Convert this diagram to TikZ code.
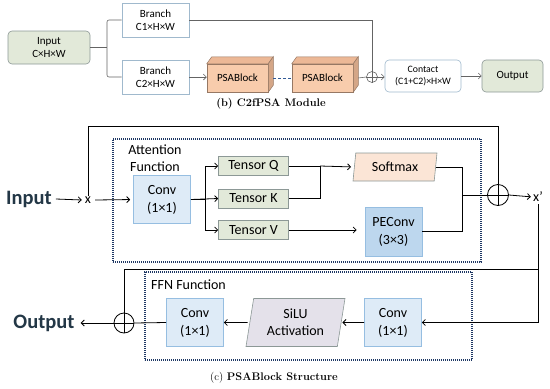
\documentclass[tikz,border=0pt]{standalone}
\usepackage{fontspec}
\newfontfamily\carl{Carlito}
\usetikzlibrary{arrows.meta,shapes.geometric,calc}
\definecolor{gfill}{RGB}{226,233,217}
\definecolor{gdraw}{RGB}{140,152,150}
\definecolor{bdraw}{RGB}{160,185,205}
\definecolor{pfill}{RGB}{248,204,172}
\definecolor{pdark}{RGB}{236,184,150}
\definecolor{pdraw}{RGB}{150,120,100}
\definecolor{sfill}{RGB}{251,229,214}
\definecolor{cfill}{RGB}{222,235,247}
\definecolor{cdraw}{RGB}{150,190,225}
\definecolor{pefill}{RGB}{189,215,238}
\definecolor{lfill}{RGB}{228,225,234}
\definecolor{navy}{RGB}{31,56,100}
\definecolor{lblue}{RGB}{50,90,150}
\definecolor{bigtxt}{RGB}{35,55,70}
\definecolor{topln}{RGB}{100,100,100}
\tikzset{
  base/.style={font=\carl, align=center, inner sep=0pt},
  topf/.style={font=\carl\fontsize{11}{13}\selectfont},
  botf/.style={font=\carl\fontsize{14}{17}\selectfont},
  gbox/.style={base, topf, draw=gdraw, fill=gfill, rounded corners=4pt, line width=0.6pt},
  wbox/.style={base, topf, draw=bdraw, fill=white, line width=0.6pt},
  cbox/.style={base, topf, font=\carl\fontsize{9.8}{12.5}\selectfont, draw=bdraw, fill=white, rounded corners=4pt, line width=0.6pt},
  pbox/.style={base, topf, draw=pdraw, fill=pfill, line width=0.5pt, minimum width=61pt, minimum height=28pt},
  tbox/.style={base, botf, draw=gdraw, fill=gfill, line width=0.6pt, minimum width=70pt, minimum height=19pt},
  convbox/.style={base, botf, draw=cdraw, fill=cfill, line width=0.6pt, minimum width=57pt, minimum height=48pt},
  para/.style={base, botf, trapezium, trapezium left angle=74, trapezium right angle=106, trapezium stretches body=true, draw=gdraw, line width=0.6pt},
  dotbox/.style={draw=navy, line width=1.3pt, dash pattern=on 0.9pt off 1.1pt, inner sep=0pt},
  opl/.style={circle, draw, line width=0.8pt, inner sep=0pt},
  lbl/.style={base, botf},
  big/.style={base, font=\carl\bfseries\fontsize{20.5}{24}\selectfont, text=bigtxt},
  captxt/.style={inner sep=0pt, font=\fontsize{11}{13}\selectfont},
  tl/.style={draw=topln, line width=0.6pt},
  bl/.style={draw=black, line width=0.8pt},
  arr/.style={-{Straight Barb[length=3pt,width=6pt]}},
}
\begin{document}
\begin{tikzpicture}[x=1pt,y=-1pt]
\useasboundingbox (0,0) rectangle (550,389);
% ---------- top: C2fPSA ----------
\node[gbox, minimum width=82pt, minimum height=33pt] (in) at (49,47.5) {Input\\C×H×W};
\node[wbox, minimum width=67pt, minimum height=34pt] (b1) at (155.5,20) {Branch\\C1×H×W};
\node[wbox, minimum width=67pt, minimum height=34pt] (b2) at (155.5,77) {Branch\\C2×H×W};
\node[pbox] (p1) at (237.5,78) {PSABlock};
\node[pbox] (p2) at (322.5,78) {PSABlock};
\foreach \p in {p1,p2}{
  \draw[draw=pdraw, fill=pdark, line width=0.5pt] (\p.north west) -- ++(5,-7) -- ($(\p.north east)+(5,-7)$) -- (\p.north east) -- cycle;
  \draw[draw=pdraw, fill=pdark!90!black, line width=0.5pt] (\p.north east) -- ($(\p.north east)+(5,-7)$) -- ($(\p.south east)+(5,-7)$) -- (\p.south east) -- cycle;
}
\node[opl, minimum size=11pt, draw=topln, line width=0.6pt] (o1) at (372,77) {};
\draw[tl] (o1.north) -- (o1.south) (o1.west) -- (o1.east);
\node[cbox, minimum width=76pt, minimum height=32pt] (ct) at (423,76) {Contact\\(C1+C2)×H×W};
\node[gbox, minimum width=61pt, minimum height=32pt] (out) at (512.5,76) {Output};
\coordinate (sp1) at (107,47.5);
\draw[tl] (in.east) -- (sp1);
\draw[tl, rounded corners=2pt] (sp1) |- (b1.west);
\draw[tl, rounded corners=2pt] (sp1) |- (b2.west);
\draw[tl] (b1.east) -| (o1.north);
\draw[tl, arr] (b2.east) -- (p1.west |- b2.east);
\draw[draw=lblue, line width=0.8pt, dash pattern=on 3pt off 2pt] ([xshift=5pt]p1.east) -- (p2.west);
\draw[tl] ([xshift=5pt]p2.east) -- (o1.west);
\draw[tl, arr] (o1.east) -- (ct.west |- o1.east);
\draw[tl, arr] (ct.east) -- (out.west |- ct.east);
\node[captxt] (capb) at (271,104) {\textbf{(b) C2fPSA Module}};
% ---------- bottom: PSABlock ----------
\node[dotbox, minimum width=368pt, minimum height=123pt] (att) at (297,200.5) {};
\node[dotbox, minimum width=327pt, minimum height=88pt] (ffn) at (308.5,316) {};
\node[lbl] (attl) at (155,158.5) {Attention\\Function};
\node[lbl, anchor=west] (ffnl) at (151,285) {FFN Function};
\node[big] (inl) at (29,199) {Input};
\node[lbl] (xin) at (88,200) {x};
\node[convbox] (conv) at (162,199.5) {Conv\\[1pt](1×1)};
\node[tbox] (tq) at (253.5,166) {Tensor Q};
\node[tbox] (tk) at (253.5,198.5) {Tensor K};
\node[tbox] (tv) at (253.5,230) {Tensor V};
\node[para, fill=sfill, minimum width=84pt, minimum height=28pt] (sm) at (395,167) {Softmax};
\node[convbox, fill=pefill, minimum width=57pt, minimum height=49pt] (pe) at (393.5,231.5) {PEConv\\[1pt](3×3)};
\node[opl, minimum size=21pt] (o2) at (498,195) {};
\draw[bl] (o2.north) -- (o2.south) (o2.west) -- (o2.east);
\node[lbl] (xp) at (538,197) {x’};
\node[big] (outl) at (44,323) {Output};
\node[opl, minimum size=20pt] (o3) at (124,323) {};
\draw[bl] (o3.north) -- (o3.south) (o3.west) -- (o3.east);
\node[convbox] (c1b) at (195,322.5) {Conv\\[1pt](1×1)};
\node[para, fill=lfill, minimum width=99pt, minimum height=48pt] (silu) at (295.5,322.5) {SiLU\\Activation};
\node[convbox] (c2) at (393,322.5) {Conv\\[1pt](1×1)};
\node[captxt] (capc) at (274,378) {(c) \textbf{PSABlock Structure}};
% connectors
\coordinate (topy) at (0,126);
\coordinate (sp2) at (205,0);
\coordinate (mq) at (320,0);
\coordinate (mx) at (462,0);
\coordinate (ffy) at (0,267);
\draw[bl, arr] ([xshift=4pt]inl.east) -- ([xshift=-3pt]xin.west);
\draw[bl, arr, shorten >=3pt] ([xshift=4pt]xin.east) -- (conv.west);
\draw[bl] (xin.north) -- (xin.north |- topy) -| (o2.north);
\draw[bl] (conv.east) -- (conv.east -| sp2);
\draw[bl, arr] (conv.east -| sp2) |- (tq.west);
\draw[bl, arr] (conv.east -| sp2) |- (tv.west);
\draw[bl, arr] (conv.east) -- (tk.west);
\draw[bl] (tq.east) -- (tq.east -| mq);
\draw[bl] (tk.east) -| (tq.east -| mq);
\draw[bl, arr, shorten >=3pt] (tq.east -| mq) -- (sm.west);
\draw[bl, arr, shorten >=8pt] (tv.east) -- (tv.east -| pe.west);
\draw[bl] (sm.east) -- (sm.east -| mx) |- (pe.east);
\draw[bl] (mx |- o2.west) -- (o2.west);
\draw[bl, arr, shorten >=2pt] (o2.east) -- (xp.west);
\draw[bl, arr] ([yshift=-2pt]xp.south) |- (c2.east);
\draw[bl] ([yshift=-2pt]xp.south |- ffy) -| (o3.north);
\draw[bl, arr, shorten >=6pt] (o3.west) -- (outl.east);
\draw[bl] (o3.east) -- (c1b.west);
\draw[bl, arr, shorten <=2pt] (silu.west) -- (c1b.east);
\draw[bl, arr, shorten >=1pt] (c2.west) -- (silu.east);
\end{tikzpicture}
\end{document}
